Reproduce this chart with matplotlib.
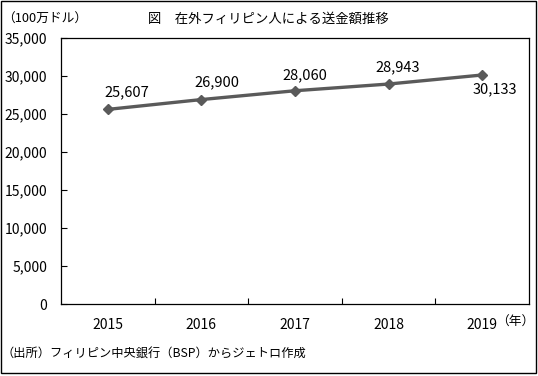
import matplotlib
matplotlib.use("Agg")
from matplotlib import pyplot as plt
from matplotlib.patches import Rectangle

plt.rcParams['font.family'] = ['Noto Sans CJK JP', 'DejaVu Sans']

years = ['2015', '2016', '2017', '2018', '2019']
remittance = [25607, 26900, 28060, 28943, 30133]
yticks = [0, 5000, 10000, 15000, 20000, 25000, 30000, 35000]

title = '図　在外フィリピン人による送金額推移'
unit_label = '（100万ドル）'
year_label = '（年）'
source_note = '（出所）フィリピン中央銀行（BSP）からジェトロ作成'

# label offsets from each point, in pixels (the last label sits below)
label_offsets = [(19, 17), (16, 17), (10, 15), (9, 17), (13, -14)]

line_color = '#5a5a5a'
W, H = 538, 376

fig = plt.figure(figsize=(W / 100, H / 100), dpi=100)
ax = fig.add_axes([61 / W, 1 - 304 / H, 468 / W, 266 / H])

x = list(range(len(years)))
ax.plot(x, remittance, color=line_color, lw=2.4, marker='D', ms=5,
        markerfacecolor=line_color, markeredgecolor=line_color)

for i, v in enumerate(remittance):
    dx, dy = label_offsets[i]
    ax.annotate(f'{v:,}', (i, v), xytext=(dx * 0.72, dy * 0.72),
                textcoords='offset points', ha='center', va='center',
                fontsize=10.5, color='black')

ax.set_xlim(-0.5, len(years) - 0.5)
ax.set_ylim(0, 35000)
ax.set_yticks(yticks)
ax.set_yticklabels([f'{t:,}' for t in yticks])
ax.set_xticks(x)
ax.set_xticklabels(years)
ax.set_xticks([i + 0.5 for i in x[:-1]], minor=True)

ax.tick_params(axis='y', direction='in', length=4, width=0.8, labelsize=10, pad=10)
ax.tick_params(axis='x', which='major', length=0, labelsize=10, pad=10)
ax.tick_params(axis='x', which='minor', direction='in', length=4, width=0.8)
for s in ax.spines.values():
    s.set_linewidth(0.9)

fig.text(268 / W, 1 - 19 / H, title, ha='center', va='center', fontsize=9.6)
fig.text(2 / W, 1 - 19 / H, unit_label, ha='left', va='center', fontsize=9.2)
fig.text(496 / W, 1 - 322 / H, year_label, ha='left', va='center', fontsize=9.2)
fig.text(2 / W, 1 - 354 / H, source_note, ha='left', va='center', fontsize=8.8)

fig.patches.append(Rectangle((1 / W, 3 / H), 535 / W, 372 / H,
                             transform=fig.transFigure, fill=False,
                             edgecolor='black', lw=1.0))

fig.savefig('out.png', dpi=100)
